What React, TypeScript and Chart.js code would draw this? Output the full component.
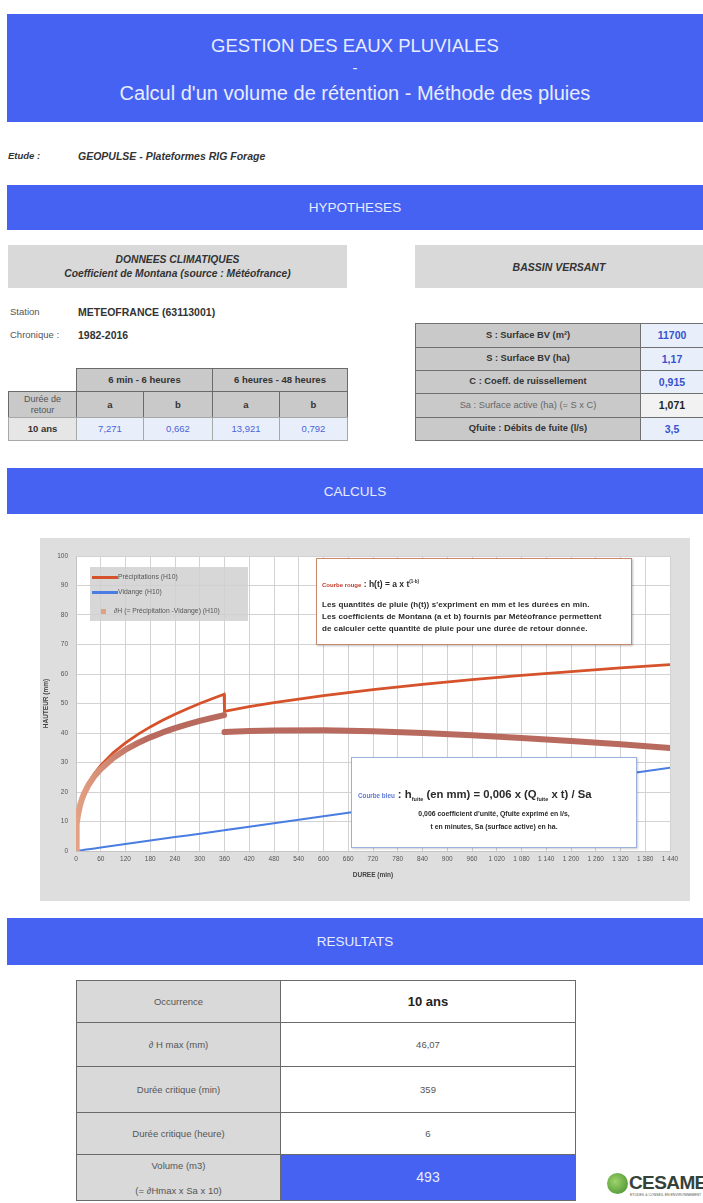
import React, { useEffect, useRef } from "react";
import { Chart, registerables } from "chart.js";
Chart.register(...registerables);

// Durées (min) and heights (mm)
const durees = [0, 1, 2, 3, 5, 10, 15, 20, 30, 45, 60, 90, 120, 150, 180, 210, 240, 270, 300, 330, 359, 360, 420, 480, 600, 720, 840, 960, 1080, 1200, 1320, 1440];
const precipitations = [0, 7.27, 9.19, 10.54, 12.53, 15.84, 18.16, 20.02, 22.95, 26.33, 29.01, 33.28, 36.68, 39.55, 42.06, 44.31, 46.35, 48.24, 49.99, 51.62, 53.12, 47.36, 48.9, 50.28, 52.67, 54.7, 56.48, 58.07, 59.51, 60.83, 62.05, 63.19];
const vidange = [0, 0.02, 0.04, 0.06, 0.1, 0.2, 0.29, 0.39, 0.59, 0.88, 1.18, 1.76, 2.35, 2.94, 3.53, 4.12, 4.71, 5.29, 5.88, 6.47, 7.04, 7.06, 8.24, 9.41, 11.76, 14.12, 16.47, 18.82, 21.18, 23.53, 25.88, 28.24];
const deltaH = [0, 7.25, 9.15, 10.48, 12.43, 15.64, 17.87, 19.63, 22.36, 25.45, 27.83, 31.52, 34.33, 36.61, 38.53, 40.19, 41.64, 42.95, 44.11, 45.15, 46.08, 40.3, 40.66, 40.87, 40.91, 40.58, 40.01, 39.25, 38.33, 37.3, 36.17, 34.95];

const xTickValues = [0, 60, 120, 180, 240, 300, 360, 420, 480, 540, 600, 660, 720, 780, 840, 900, 960, 1020, 1080, 1140, 1200, 1260, 1320, 1380, 1440];
const xTickLabels = ["0", "60", "120", "180", "240", "300", "360", "420", "480", "540", "600", "660", "720", "780", "840", "900", "960", "1 020", "1 080", "1 140", "1 200", "1 260", "1 320", "1 380", "1 440"];
const yTickValues = [0, 10, 20, 30, 40, 50, 60, 70, 80, 90, 100];

const legendLabels = ["Précipitations (H10)", "Vidange (H10)", "∂H (= Précipitation -Vidange) (H10)"];

const montanaHeaders = ["6 min - 6 heures", "6 heures - 48 heures"];
const montanaCoefs = ["7,271", "0,662", "13,921", "0,792"];

const bvLabels = ["S : Surface BV (m²)", "S : Surface BV (ha)", "C : Coeff. de ruissellement", "Sa : Surface active (ha) (= S x C)", "Qfuite : Débits de fuite (l/s)"];
const bvValues = ["11700", "1,17", "0,915", "1,071", "3,5"];

const resLabels = ["Occurrence", "∂ H max (mm)", "Durée critique (min)", "Durée critique (heure)"];
const resValues = ["10 ans", "46,07", "359", "6"];
const resVolume = "493";

const BLUE = "#4662f2";
const FONT = '"Liberation Sans", Arial, Helvetica, sans-serif';
const CHART_FONT = '"Liberation Sans", Arial, sans-serif';

const abs = (x: number, y: number, w: number, h: number): React.CSSProperties => ({
  position: "absolute", left: x, top: y, width: w, height: h, boxSizing: "border-box",
});

function Banner({ y, h, children, pad }: { y: number; h: number; children: React.ReactNode; pad?: number }) {
  return (
    <div style={{ ...abs(7, y, 696, h), paddingTop: pad || 0, background: BLUE, color: "#e8ecff", display: "flex", flexDirection: "column", alignItems: "center", justifyContent: "center", textAlign: "center" }}>
      {children}
    </div>
  );
}

function Cell({ x, y, w, h, bg, color, border, children, style }: any) {
  return (
    <div style={{ ...abs(x, y, w + 1, h + 1), background: bg, color: color || "#333", border: `1px solid ${border || "#6a6a6a"}`, display: "flex", alignItems: "center", justifyContent: "center", textAlign: "center", lineHeight: 1.2, ...style }}>
      {children}
    </div>
  );
}

function RainChart() {
  const ref = useRef<HTMLCanvasElement | null>(null);
  useEffect(() => {
    if (!ref.current) return;
    const bgPlugin = {
      id: "areaBg",
      beforeDraw(chart: any) {
        const { ctx, chartArea } = chart;
        ctx.save();
        ctx.fillStyle = "#ffffff";
        ctx.fillRect(chartArea.left, chartArea.top, chartArea.right - chartArea.left, chartArea.bottom - chartArea.top);
        ctx.restore();
      },
    };
    const pts = (vals: number[]) => durees.map((d, i) => ({ x: d, y: vals[i] }));
    const chart = new Chart(ref.current, {
      type: "line",
      data: {
        datasets: [
          {
            label: legendLabels[2],
            data: pts(deltaH),
            borderColor: (ctx: any) => {
              const area = ctx.chart.chartArea;
              if (!area) return "#b96a5e";
              const g = ctx.chart.ctx.createLinearGradient(area.left, 0, area.left + 70, 0);
              g.addColorStop(0, "#e4a184");
              g.addColorStop(1, "#b96a5e");
              return g;
            },
            borderWidth: 6,
            borderCapStyle: "round",
            borderJoinStyle: "round",
            pointRadius: 0,
            order: 0,
            segment: {
              borderColor: (ctx: any) => (ctx.p0.parsed.x === 359 && ctx.p1.parsed.x === 360 ? "rgba(0,0,0,0)" : undefined),
            },
          } as any,
          {
            label: legendLabels[0],
            data: pts(precipitations),
            borderColor: "#d6522a",
            borderWidth: 2.8,
            pointRadius: 0,
            order: 1,
          },
          {
            label: legendLabels[1],
            data: pts(vidange),
            borderColor: "#4a7de2",
            borderWidth: 2,
            pointRadius: 0,
            order: 2,
          },
        ],
      },
      options: {
        animation: false,
        responsive: false,
        layout: { padding: { top: 18, right: 20, left: 0, bottom: 0 } },
        plugins: { legend: { display: false }, tooltip: { enabled: false } },
        scales: {
          x: {
            type: "linear",
            min: 0,
            max: 1440,
            afterBuildTicks: (scale: any) => { scale.ticks = xTickValues.map((v) => ({ value: v })); },
            afterFit: (scale: any) => { scale.height = 50; },
            ticks: {
              autoSkip: false,
              maxRotation: 0,
              padding: 4,
              color: "#555",
              font: { family: CHART_FONT, size: 6.5 },
              callback: (v: any) => { const i = xTickValues.indexOf(Number(v)); return i >= 0 ? xTickLabels[i] : ""; },
            },
            grid: { color: "#d2d2d2", drawTicks: false },
            border: { color: "#c4c4c4" },
            title: { display: true, text: "DUREE (min)", color: "#444", font: { family: CHART_FONT, size: 6.5, weight: "bold" }, padding: { top: 0, bottom: 22 } },
          },
          y: {
            type: "linear",
            min: 0,
            max: 100,
            afterBuildTicks: (scale: any) => { scale.ticks = yTickValues.map((v) => ({ value: v })); },
            afterFit: (scale: any) => { scale.width = 36; },
            ticks: { padding: 8, color: "#555", font: { family: CHART_FONT, size: 6.5 } },
            grid: { color: "#d2d2d2", drawTicks: false },
            border: { color: "#c4c4c4" },
            title: { display: true, text: "HAUTEUR (mm)", color: "#444", font: { family: CHART_FONT, size: 6.5, weight: "bold" }, padding: { top: 2, bottom: 0 } },
          },
        },
      } as any,
      plugins: [bgPlugin],
    });
    return () => chart.destroy();
  }, []);
  return <canvas ref={ref} width={650} height={363} style={{ position: "absolute", left: 40, top: 538, width: 650, height: 363 }} />;
}

export default function App() {
  const hdr: React.CSSProperties = { fontSize: 9.5, fontWeight: "bold" };
  return (
    <div style={{ position: "absolute", left: 0, top: 0, width: 703, height: 1203, overflow: "hidden", background: "#fff", fontFamily: FONT, color: "#222" }}>
      {/* Header */}
      <Banner y={14} h={108} pad={4}>
        <div style={{ fontSize: 18.5, lineHeight: "23px" }}>GESTION DES EAUX PLUVIALES</div>
        <div style={{ fontSize: 15, lineHeight: "22px" }}>-</div>
        <div style={{ fontSize: 20, lineHeight: "28px" }}>Calcul d'un volume de rétention - Méthode des pluies</div>
      </Banner>

      <div style={{ position: "absolute", left: 8, top: 150, fontSize: 9.5, fontWeight: "bold", fontStyle: "italic", color: "#333" }}>Etude :</div>
      <div style={{ position: "absolute", left: 78, top: 150, fontSize: 10.5, fontWeight: "bold", fontStyle: "italic", color: "#333" }}>GEOPULSE - Plateformes RIG Forage</div>

      <Banner y={185} h={45}>
        <div style={{ fontSize: 13.5 }}>HYPOTHESES</div>
      </Banner>

      {/* Données climatiques */}
      <div style={{ ...abs(8, 245, 339, 43), background: "#d9d9d9", display: "flex", flexDirection: "column", alignItems: "center", justifyContent: "center", fontSize: 10.3, fontWeight: "bold", fontStyle: "italic", color: "#333", lineHeight: "14px" }}>
        <div>DONNEES CLIMATIQUES</div>
        <div>Coefficient de Montana (source : Météofrance)</div>
      </div>
      <div style={{ ...abs(415, 245, 288, 43), background: "#d9d9d9", display: "flex", alignItems: "center", justifyContent: "center", fontSize: 10.5, fontWeight: "bold", fontStyle: "italic", color: "#333" }}>
        BASSIN VERSANT
      </div>

      <div style={{ position: "absolute", left: 10, top: 306, fontSize: 9.5, color: "#555" }}>Station</div>
      <div style={{ position: "absolute", left: 78, top: 306, fontSize: 10.5, fontWeight: "bold", color: "#333" }}>METEOFRANCE (63113001)</div>
      <div style={{ position: "absolute", left: 10, top: 329, fontSize: 9.5, color: "#555" }}>Chronique :</div>
      <div style={{ position: "absolute", left: 78, top: 329, fontSize: 10.5, fontWeight: "bold", color: "#333" }}>1982-2016</div>

      {/* Montana table */}
      <Cell x={76} y={368} w={136} h={23} bg="#c9c9c9" style={hdr}>{montanaHeaders[0]}</Cell>
      <Cell x={212} y={368} w={135} h={23} bg="#c9c9c9" style={hdr}>{montanaHeaders[1]}</Cell>
      <Cell x={8} y={391} w={68} h={26} bg="#c9c9c9" color="#555" style={{ fontSize: 9 }}>Durée de<br />retour</Cell>
      {["a", "b", "a", "b"].map((t, i) => (
        <Cell key={"h" + i} x={[76, 143, 212, 279][i]} y={391} w={[67, 69, 67, 68][i]} h={26} bg="#c9c9c9" style={hdr}>{t}</Cell>
      ))}
      <Cell x={8} y={417} w={68} h={23} bg="#e6e6e6" border="#a8a8a8" style={hdr}>10 ans</Cell>
      {montanaCoefs.map((t, i) => (
        <Cell key={"v" + i} x={[76, 143, 212, 279][i]} y={417} w={[67, 69, 67, 68][i]} h={23} bg="#e9effa" border="#a8a8a8" color="#4a63d8" style={{ fontSize: 9.5 }}>{t}</Cell>
      ))}

      {/* Bassin versant table */}
      {bvLabels.map((t, i) => {
        const y = [323, 347, 370, 393, 417][i];
        const h = [24, 23, 23, 24, 23][i];
        const isSa = i === 3;
        return (
          <React.Fragment key={"bv" + i}>
            <Cell x={415} y={y} w={225} h={h} bg="#c9c9c9" border="#707070" color={isSa ? "#666" : "#333"} style={{ fontSize: 9.3, fontWeight: isSa ? "normal" : "bold" }}>{t}</Cell>
            <Cell x={640} y={y} w={63} h={h} bg={isSa ? "#f2f2f2" : "#e9effa"} border="#707070" color={isSa ? "#222" : "#3553cf"} style={{ fontSize: 10.5, fontWeight: "bold" }}>{bvValues[i]}</Cell>
          </React.Fragment>
        );
      })}

      <Banner y={468} h={46}>
        <div style={{ fontSize: 13.5 }}>CALCULS</div>
      </Banner>

      {/* Chart */}
      <div style={{ ...abs(40, 538, 650, 363), background: "#dedede" }} />
      <RainChart />

      {/* Legend */}
      <div style={{ ...abs(90, 567, 158, 54), background: "rgba(208,208,208,0.85)", fontSize: 6.8, color: "#555" }}>
        <div style={{ position: "absolute", left: 2, top: 9, width: 26, height: 3, background: "#d6522a" }} />
        <div style={{ position: "absolute", left: 28, top: 6 }}>{legendLabels[0]}</div>
        <div style={{ position: "absolute", left: 2, top: 24, width: 26, height: 3, background: "#4a7de2" }} />
        <div style={{ position: "absolute", left: 28, top: 21 }}>{legendLabels[1]}</div>
        <div style={{ position: "absolute", left: 11, top: 42, width: 5, height: 5, background: "#e0a084" }} />
        <div style={{ position: "absolute", left: 24, top: 40 }}>{legendLabels[2]}</div>
      </div>

      {/* Red annotation */}
      <div style={{ ...abs(316, 558, 316, 87), background: "#fff", border: "1px solid #c98a6c", boxShadow: "1px 1px 2px rgba(0,0,0,0.25)", color: "#2a2a2a" }}>
        <div style={{ position: "absolute", left: 5, top: 14, whiteSpace: "nowrap" }}>
          <span style={{ fontSize: 6, color: "#c0392b", fontWeight: "bold" }}>Courbe rouge</span>
          <span style={{ fontSize: 8.5, fontWeight: "bold" }}> : h(t) = a x t<sup style={{ fontSize: 4.5 }}>(1-b)</sup></span>
        </div>
        <div style={{ position: "absolute", left: 5, top: 40, fontSize: 8, fontWeight: "bold", lineHeight: "12px", whiteSpace: "nowrap", letterSpacing: 0.1 }}>
          <div>Les quantités de pluie (h(t)) s'expriment en mm et les durées en min.</div>
          <div>Les coefficients de Montana (a et b) fournis par Météofrance permettent</div>
          <div>de calculer cette quantité de pluie pour une durée de retour donnée.</div>
        </div>
      </div>

      {/* Blue annotation */}
      <div style={{ ...abs(351, 757, 286, 91), background: "#fff", border: "1px solid #9cb0dc", boxShadow: "1px 1px 2px rgba(0,0,0,0.2)", color: "#2a2a2a" }}>
        <div style={{ position: "absolute", left: 6, top: 26, whiteSpace: "nowrap" }}>
          <span style={{ fontSize: 6.3, color: "#5b7bd5", fontWeight: "bold" }}>Courbe bleu</span>
          <span style={{ fontSize: 11.3, fontWeight: "bold" }}> : h<sub style={{ fontSize: 5.5 }}>fuite</sub> (en mm) = 0,006 x (Q<sub style={{ fontSize: 5.5 }}>fuite</sub> x t) / Sa</span>
        </div>
        <div style={{ position: "absolute", left: 0, top: 49, width: 284, textAlign: "center", fontSize: 6.9, fontWeight: "bold", lineHeight: "13px" }}>
          <div>0,006 coefficient d'unité, Qfuite exprimé en l/s,</div>
          <div>t en minutes, Sa (surface active) en ha.</div>
        </div>
      </div>

      <Banner y={918} h={47}>
        <div style={{ fontSize: 13.5 }}>RESULTATS</div>
      </Banner>

      {/* Results table */}
      {resLabels.map((t, i) => {
        const y = [980, 1022, 1066, 1112][i];
        const h = [42, 44, 46, 42][i];
        return (
          <React.Fragment key={"r" + i}>
            <Cell x={76} y={y} w={204} h={h} bg="#d9d9d9" border="#6a6a6a" color="#555" style={{ fontSize: 9.5 }}>{t}</Cell>
            <Cell x={280} y={y} w={295} h={h} bg="#fff" border="#6a6a6a" color={i === 0 ? "#222" : "#555"} style={{ fontSize: i === 0 ? 13 : 9.5, fontWeight: i === 0 ? "bold" : "normal" }}>{resValues[i]}</Cell>
          </React.Fragment>
        );
      })}
      <Cell x={76} y={1154} w={204} h={46} bg="#d9d9d9" border="#6a6a6a" color="#555" style={{ fontSize: 9.5, flexDirection: "column", lineHeight: "25px" }}>
        <div>Volume (m3)</div>
        <div>(= ∂Hmax x Sa x 10)</div>
      </Cell>
      <Cell x={280} y={1154} w={295} h={46} bg={BLUE} border="#6a6a6a" color="#e8ecff" style={{ fontSize: 14 }}>{resVolume}</Cell>

      {/* Logo */}
      <div style={{ ...abs(607, 1173, 21, 21), borderRadius: "50%", background: "radial-gradient(circle at 40% 40%, #9fd36a, #3f8a2a)" }} />
      <div style={{ position: "absolute", left: 629, top: 1173, fontSize: 19, fontWeight: "bold", color: "#34423a", letterSpacing: -0.6, lineHeight: "19px" }}>CESAME</div>
      <div style={{ position: "absolute", left: 630, top: 1193, fontSize: 3.5, color: "#555", whiteSpace: "nowrap" }}>ETUDES &amp; CONSEIL EN ENVIRONNEMENT</div>
    </div>
  );
}
